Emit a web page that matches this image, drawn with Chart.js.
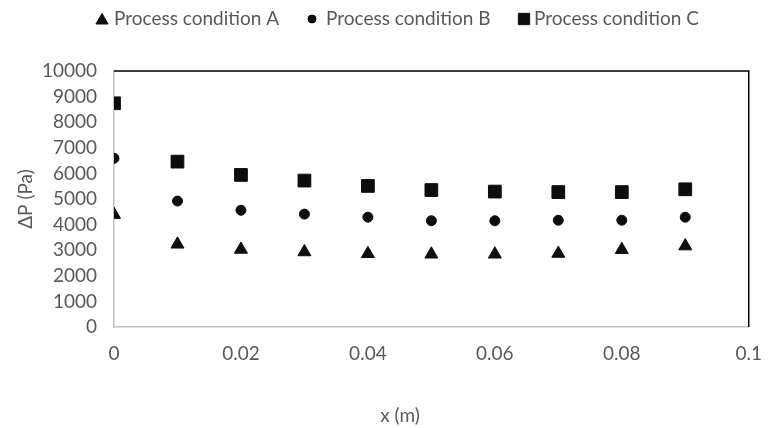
<!DOCTYPE html>
<html>
<head>
<meta charset="utf-8">
<title>Pressure drop along x</title>
<script src="https://cdn.jsdelivr.net/npm/chart.js@4.4.0/dist/chart.umd.min.js"></script>
<style>
    html, body { margin: 0; padding: 0; background: #ffffff; }
    #wrap { width: 777px; height: 428px; }
</style>
</head>
<body>
<div id="wrap"><canvas id="dpChart" width="777" height="428"></canvas></div>
<script>
// positions along the channel (m) and measured pressure drop (Pa)
var xPositions = [0, 0.01, 0.02, 0.03, 0.04, 0.05, 0.06, 0.07, 0.08, 0.09];
var conditionA = [4390, 3230, 3030, 2930, 2860, 2840, 2840, 2870, 3020, 3160];
var conditionB = [6590, 4920, 4560, 4410, 4290, 4150, 4150, 4170, 4170, 4290];
var conditionC = [8740, 6460, 5940, 5720, 5510, 5350, 5290, 5270, 5270, 5380];
var seriesNames = ['Process condition A', 'Process condition B', 'Process condition C'];
var xTicks = [0, 0.02, 0.04, 0.06, 0.08, 0.1];
var yTicks = [0, 1000, 2000, 3000, 4000, 5000, 6000, 7000, 8000, 9000, 10000];

var TEXT_COLOR = '#595959';
var MARK_COLOR = '#0d0d0d';
var FONT = 'Lato, "Open Sans", sans-serif';

function toPoints(values) {
    return values.map(function(v, i) { return { x: xPositions[i], y: v }; });
}

function makeSeries(label, values, style, radius) {
    return {
        label: label,
        data: toPoints(values),
        pointStyle: style,
        pointRadius: radius,
        pointHoverRadius: radius,
        pointBorderWidth: 1,
        backgroundColor: MARK_COLOR,
        borderColor: MARK_COLOR,
        showLine: false
    };
}

// legend, axis titles and the dark top/right frame
var decorPlugin = {
    id: 'decor',
    beforeDatasetsDraw: function(chart) {
        var ctx = chart.ctx;
        var area = chart.chartArea;
        ctx.save();
        ctx.strokeStyle = '#000000';
        ctx.lineWidth = 1.5;
        ctx.beginPath();
        ctx.moveTo(area.left, area.top);
        ctx.lineTo(area.right, area.top);
        ctx.lineTo(area.right, area.bottom);
        ctx.stroke();
        ctx.restore();
    },
    afterDraw: function(chart) {
        var ctx = chart.ctx;
        ctx.save();

        // legend row
        var markX = [102, 312, 524];
        var textX = [114, 326, 534];
        var legendY = 19;
        chart.data.datasets.forEach(function(ds, i) {
            ctx.fillStyle = MARK_COLOR;
            ctx.strokeStyle = MARK_COLOR;
            ctx.lineWidth = 1;
            var r = ds.pointStyle === 'circle' ? 4 : (ds.pointStyle === 'rect' ? 8 : 7);
            Chart.helpers.drawPoint(ctx, {
                pointStyle: ds.pointStyle,
                radius: r,
                rotation: 0,
                borderWidth: 1
            }, markX[i], legendY + (ds.pointStyle === 'triangle' ? 1.5 : 0));
            ctx.fillStyle = TEXT_COLOR;
            ctx.font = '19px ' + FONT;
            ctx.textAlign = 'left';
            ctx.textBaseline = 'middle';
            ctx.fillText(ds.label, textX[i], legendY);
        });

        // axis titles
        ctx.fillStyle = TEXT_COLOR;
        ctx.font = '19px ' + FONT;
        ctx.textAlign = 'center';
        ctx.textBaseline = 'middle';
        ctx.fillText('x (m)', 400, 416);

        ctx.translate(26, 199);
        ctx.rotate(-Math.PI / 2);
        ctx.fillText('\u0394P (Pa)', 0, 0);
        ctx.restore();
    }
};

new Chart(document.getElementById('dpChart').getContext('2d'), {
    type: 'scatter',
    data: {
        datasets: [
            makeSeries(seriesNames[0], conditionA, 'triangle', 7.5),
            makeSeries(seriesNames[1], conditionB, 'circle', 5),
            makeSeries(seriesNames[2], conditionC, 'rect', 9)
        ]
    },
    options: {
        responsive: false,
        animation: false,
        layout: { padding: { top: 71, right: 14, left: 0, bottom: 0 } },
        plugins: {
            legend: { display: false },
            tooltip: { enabled: false }
        },
        scales: {
            x: {
                type: 'linear',
                min: 0,
                max: 0.1,
                afterBuildTicks: function(scale) {
                    scale.ticks = xTicks.map(function(v) { return { value: v }; });
                },
                afterFit: function(scale) { scale.height = 101; },
                grid: { display: false, drawTicks: false },
                border: { display: true, color: '#c0c0c0', width: 1.5 },
                ticks: {
                    autoSkip: false,
                    maxRotation: 0,
                    padding: 15,
                    color: TEXT_COLOR,
                    font: { family: FONT, size: 19 },
                    callback: function(v) { return String(v); }
                }
            },
            y: {
                type: 'linear',
                min: 0,
                max: 10000,
                afterBuildTicks: function(scale) {
                    scale.ticks = yTicks.map(function(v) { return { value: v }; });
                },
                afterFit: function(scale) { scale.width = 114; },
                grid: { display: false, drawTicks: false },
                border: { display: true, color: '#c0c0c0', width: 1.5 },
                ticks: {
                    autoSkip: false,
                    padding: 17,
                    color: TEXT_COLOR,
                    font: { family: FONT, size: 19 },
                    callback: function(v) { return String(v); }
                }
            }
        }
    },
    plugins: [decorPlugin]
});
</script>
</body>
</html>
